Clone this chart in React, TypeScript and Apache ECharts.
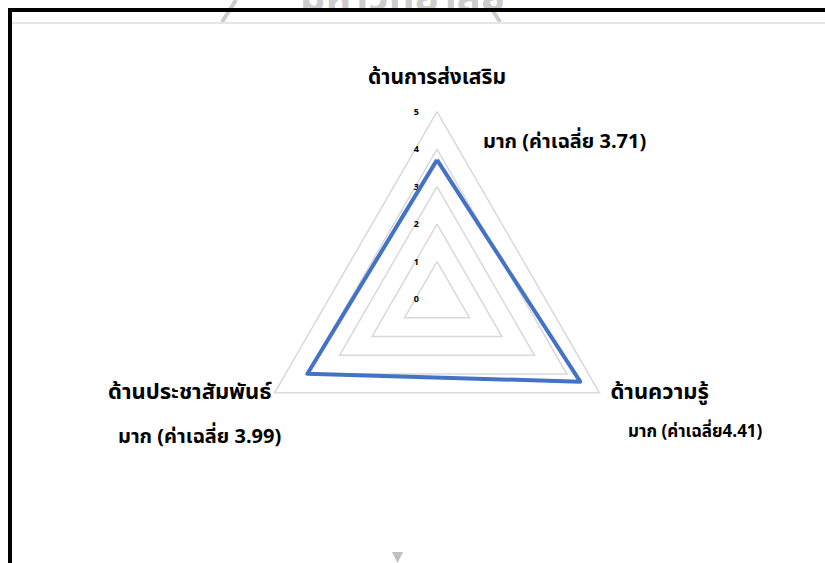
import React, { useEffect, useRef } from "react";
import * as echarts from "echarts";

const categories = ["ด้านการส่งเสริม", "ด้านประชาสัมพันธ์", "ด้านความรู้"];
const values = [3.71, 3.99, 4.41];
const levels = ["มาก", "มาก", "มาก"];
const tickLabels = ["0", "1", "2", "3", "4", "5"];
const axisMin = 0;
const axisMax = 5;

const FONT = "'Noto Sans Thai', Tahoma, 'Noto Sans', 'DejaVu Sans', sans-serif";

const annotation = (i: number, space = true) =>
  `${levels[i]} (ค่าเฉลี่ย${space ? " " : ""}${values[i].toFixed(2)})`;

export default function App() {
  const ref = useRef<HTMLDivElement>(null);
  useEffect(() => {
    if (!ref.current) return;
    const chart = echarts.init(ref.current, undefined, { renderer: "svg" });
    const nameGaps = [24, 0, 0];
    const namePads = [
      [0, 0, 0, 0],
      [0, 3, 0, 0],
      [0, 0, 0, 11],
    ];
    const nameSizes = [21, 22, 22];
    chart.setOption({
      animation: false,
      backgroundColor: "#ffffff",
      radar: {
        center: [437, 299],
        radius: 187.5,
        shape: "polygon",
        splitNumber: 5,
        startAngle: 90,
        axisName: {
          color: "#000000",
          fontFamily: FONT,
          fontWeight: "bold",
          fontSize: 22,
        },
        axisLine: { show: false },
        axisTick: { show: false },
        axisLabel: { show: false },
        splitArea: { show: false },
        splitLine: { lineStyle: { color: "#d9d9d9", width: 1.5 } },
        indicator: categories.map((name, i) => {
          const ind: any = {
            name,
            min: axisMin,
            max: axisMax,
            nameGap: nameGaps[i],
            nameTextStyle: { padding: namePads[i], fontSize: nameSizes[i] },
          };
          if (i === 0) {
            ind.axisLabel = {
              show: true,
              color: "#000000",
              fontFamily: FONT,
              fontWeight: "bold",
              fontSize: 9,
              margin: 18,
              formatter: (v: number) => tickLabels[Math.round(v)] ?? "",
            };
          }
          return ind;
        }),
      },
      series: [
        {
          type: "radar",
          symbol: "none",
          lineStyle: { color: "#4472c4", width: 4 },
          data: [{ value: values, name: "ค่าเฉลี่ย" }],
        },
      ],
      graphic: [
        // watermark remnants at top
        {
          type: "text",
          left: 300,
          top: -22,
          z: -1,
          style: {
            text: "มหาวิทยาลัย",
            fill: "#cccccc",
            font: `bold 40px ${FONT}`,
          },
        },
        { type: "line", shape: { x1: 236, y1: 0, x2: 222, y2: 22 }, style: { stroke: "#cccccc", lineWidth: 4 } },
        { type: "line", shape: { x1: 486, y1: 0, x2: 500, y2: 22 }, style: { stroke: "#cccccc", lineWidth: 4 } },
        { type: "line", shape: { x1: 12, y1: 23, x2: 825, y2: 23 }, style: { stroke: "#e6e6e6", lineWidth: 2 } },
        // frame
        { type: "line", shape: { x1: 8, y1: 10, x2: 825, y2: 10 }, style: { stroke: "#000000", lineWidth: 4 } },
        { type: "line", shape: { x1: 10, y1: 8, x2: 10, y2: 563 }, style: { stroke: "#000000", lineWidth: 4 } },
        // annotations
        {
          type: "text",
          x: 483,
          y: 142,
          style: {
            text: annotation(0),
            fill: "#000000",
            font: `bold 20px ${FONT}`,
            verticalAlign: "middle",
            align: "left",
          },
        },
        {
          type: "text",
          x: 118,
          y: 437,
          style: {
            text: annotation(1),
            fill: "#000000",
            font: `bold 20px ${FONT}`,
            verticalAlign: "middle",
            align: "left",
          },
        },
        {
          type: "text",
          x: 628,
          y: 432,
          style: {
            text: annotation(2, false),
            fill: "#000000",
            font: `bold 17px ${FONT}`,
            verticalAlign: "middle",
            align: "left",
          },
        },
        // scroll arrow
        {
          type: "polygon",
          shape: { points: [[392, 552], [403, 552], [397.5, 563]] },
          style: { fill: "#bfbfbf" },
        },
      ],
    });
    return () => chart.dispose();
  }, []);
  return (
    <div
      ref={ref}
      style={{ position: "fixed", left: 0, top: 0, width: 825, height: 563 }}
    />
  );
}
